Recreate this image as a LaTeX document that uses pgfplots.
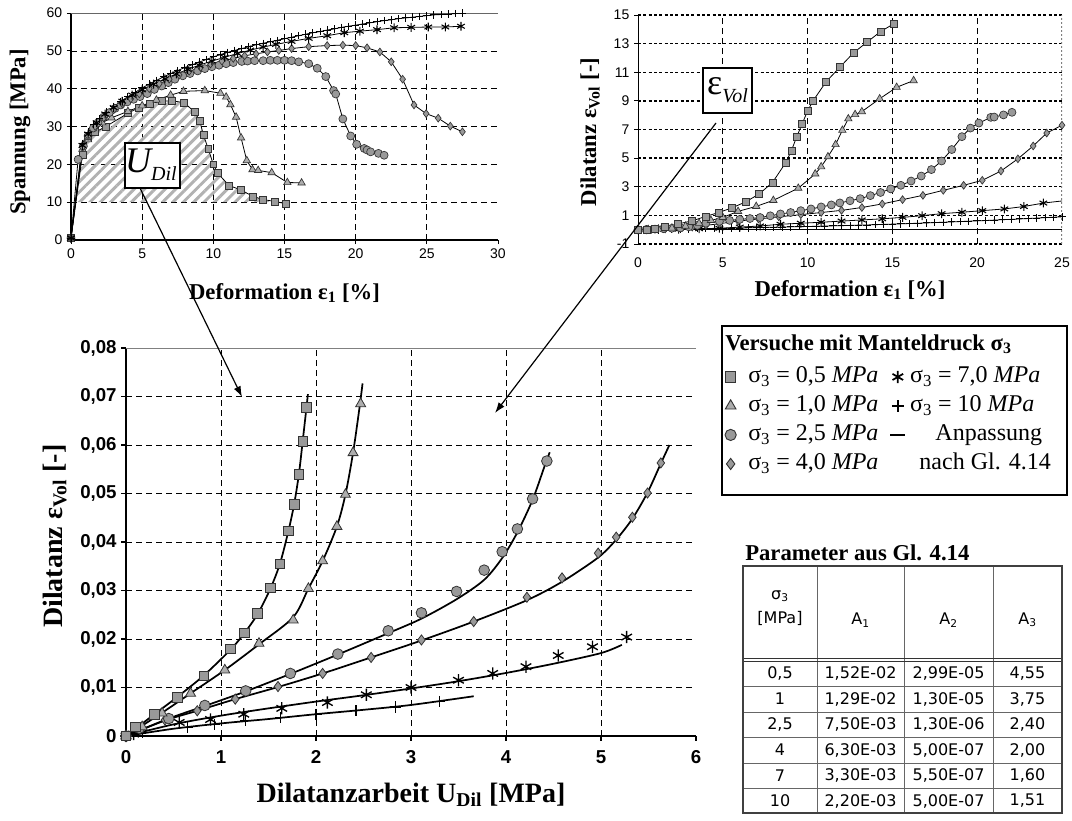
\documentclass[border=0pt]{standalone}
\usepackage{fontspec}
\setmainfont{Liberation Serif}
\setsansfont{Liberation Sans}
\newfontfamily\tabfont{DejaVu Sans}
\usepackage{pgfplots}
\pgfplotsset{compat=1.18}
\usetikzlibrary{patterns.meta,arrows.meta}
\definecolor{mk}{HTML}{999999}
\definecolor{mkd}{HTML}{333333}
\pgfplotsset{
  tsq/.style={black, line width=0.6pt, mark=square*, mark size=2.6pt, mark options={solid, fill=mk, draw=mkd, line width=0.5pt}},
  ttr/.style={black, line width=0.6pt, mark=triangle*, mark size=3.2pt, mark options={solid, fill=mk!80!white, draw=mkd, line width=0.5pt}},
  tci/.style={black, line width=0.6pt, mark=*, mark size=3pt, mark options={solid, fill=mk, draw=mkd, line width=0.5pt}},
  tdi/.style={black, line width=0.6pt, mark=diamond*, mark size=2.9pt, mark options={solid, fill=mk, draw=mkd, line width=0.5pt}},
  tst/.style={black, line width=0.6pt, mark=asterisk, mark size=3.3pt, mark options={solid, draw=black, line width=0.8pt}},
  tpl/.style={black, line width=0.6pt, mark=+, mark size=2.8pt, mark options={solid, draw=black, line width=0.7pt}},
  bsq/.style={only marks, mark=square*, mark size=3.6pt, mark options={fill=mk, draw=mkd, line width=0.6pt}},
  btr/.style={only marks, mark=triangle*, mark size=4.3pt, mark options={fill=mk!80!white, draw=mkd, line width=0.6pt}},
  bci/.style={only marks, mark=*, mark size=4pt, mark options={fill=mk, draw=mkd, line width=0.6pt}},
  bdi/.style={only marks, mark=diamond*, mark size=3.8pt, mark options={fill=mk, draw=mkd, line width=0.6pt}},
  bst/.style={only marks, mark=asterisk, mark size=4.6pt, mark options={draw=black, line width=1pt}},
  bpl/.style={only marks, mark=+, mark size=4.2pt, mark options={draw=black, line width=0.9pt}},
  fit/.style={black, line width=1.3pt, smooth, no marks},
}
\begin{document}
\begin{tikzpicture}
\useasboundingbox (0,0) rectangle (804pt,-615.75pt);

% ---------------- top left: Spannung ----------------
\begin{axis}[at={(53.25pt,-180pt)}, anchor=south west, scale only axis,
  width=320.25pt, height=170.25pt,
  xmin=0, xmax=30, ymin=0, ymax=60,
  xtick={0,5,...,30}, ytick={0,10,...,60},
  minor xtick={5,10,...,25}, minor ytick={10,20,...,50},
  xminorgrids, yminorgrids, minor tick length=0pt,
  minor grid style={black, line width=0.5pt, dash pattern=on 4.5pt off 3pt},
  axis x line*=bottom, axis y line*=left,
  axis line style={black, line width=0.8pt},
  tick align=outside, major tick length=3pt, tick style={black, line width=0.6pt},
  tick label style={font=\sffamily\fontsize{10.5}{12}\selectfont},
  /pgf/number format/assume math mode=true,
  xlabel={Deformation ε\textsubscript{1} [\%]}, ylabel={Spannung [MPa]},
  label style={font=\bfseries\fontsize{17}{19}\selectfont},
  xlabel style={at={(axis description cs:0.5,-0.2335)}, anchor=center},
  ylabel style={at={(axis description cs:-0.1194,0.476)}, anchor=center},
]
\draw[black!60, line width=0.6pt] (rel axis cs:0,1) -- (rel axis cs:1,1) -- (rel axis cs:1,0);
% hatched area U_Dil (under the square curve, above 10 MPa)
\addplot[draw=none, pattern={Lines[angle=45,distance=5.5pt,line width=2.2pt]}, pattern color=black!30, forget plot]
 coordinates {(0.35,10)(0.8,22.5)(1.2,27)(1.7,28.5)(2.45,30)(4.0,33.5)(4.77,35)(5.54,36)(6.36,36.7)(7.1,36.8)(7.95,36.3)(8.7,33.8)(9.05,31.4)(9.3,27.8)(9.65,24)(10.0,20)(10.3,17.7)(11.1,14.4)(11.9,13.3)(12.8,11.5)(13.5,10.7)(14.3,10)} -- cycle;
\addplot[tsq] coordinates {(0,0.5)(0.8,22.5)(1.2,27)(1.7,28.5)(2.45,30)(4.0,33.5)(4.77,35)(5.54,36)(6.36,36.7)(7.1,36.8)(7.95,36.3)(8.7,33.8)(9.05,31.4)(9.3,27.8)(9.65,24)(10.0,20)(10.3,17.7)(11.1,14.4)(11.9,13.3)(12.8,11.5)(13.5,10.7)(14.3,10.2)(15.1,9.6)};
\addplot[ttr] coordinates {(0,0.5)(0.8,24)(1.2,26.5)(2.2,31)(2.85,32.3)(4.0,34)(5.0,35.5)(6.0,37)(7.0,38.3)(7.9,39.3)(9.4,39.5)(10.5,38.8)(10.9,37.8)(11.2,35.8)(11.6,32.5)(11.95,27)(12.35,21)(12.75,18.6)(13.15,18.4)(14.1,17.8)(15.2,15.2)(16.2,15.1)};
\addplot[tci] coordinates {(0,0.5)(0.5,21.3)(0.87,24.8)(1.2,27.5)(1.57,29.6)(1.9,31)(2.3,32.5)(2.7,33.7)(3.1,34.8)(3.5,35.7)(3.95,36.5)(4.4,37.2)(4.85,37.9)(5.36,38.7)(5.86,39.8)(6.37,40.7)(6.84,41.6)(7.3,42.5)(7.85,43.4)(8.36,44)(8.9,44.7)(9.4,45.3)(9.9,45.8)(10.4,46.2)(10.9,46.6)(11.4,46.9)(12,47.2)(12.4,47.3)(12.9,47.4)(13.5,47.4)(14,47.5)(14.5,47.5)(15,47.5)(15.5,47.4)(16,47.1)(16.7,46.6)(17.3,45.4)(17.9,43.2)(18.45,39.5)(18.6,38.6)(19.1,32)(19.65,27.5)(20.07,25.3)(20.6,24.2)(20.8,23.8)(21.05,23.3)(21.6,22.9)(22.0,22.4)};
\addplot[tdi] coordinates {(0,0.5)(0.8,24.5)(1.2,27.5)(1.7,30)(2.3,32.3)(3,34.4)(3.6,36)(4.2,37.3)(4.8,38.6)(5.5,40)(6.2,41.3)(6.9,42.5)(7.6,43.6)(8.3,44.6)(9.1,45.6)(9.8,46.5)(10.6,47.3)(11.4,48)(12.2,48.7)(13,49.2)(13.8,49.7)(14.6,50.1)(15.5,50.6)(16.7,51.1)(18,51.4)(19.1,51.5)(20,51.4)(20.8,50.8)(21.7,49.7)(22.5,47.1)(23.3,42.5)(24.1,35.7)(24.95,33.4)(25.8,32.2)(26.65,30.1)(27.5,28.6)};
\addplot[tst] coordinates {(0,0.5)(0.8,25)(1.2,28)(1.8,31)(2.4,33.3)(3,35)(3.6,36.7)(4.3,38.3)(5,39.7)(5.8,41.2)(6.6,42.6)(7.4,43.9)(8.2,45.1)(9,46.2)(9.9,47.3)(10.8,48.3)(11.7,49.3)(12.6,50.2)(13.5,51)(14.4,51.7)(15.5,52.5)(16.7,53.3)(18,54)(19.2,54.8)(20.3,55.2)(21.5,55.6)(22.7,56.1)(23.9,56.2)(25.1,56.3)(26.3,56.3)(27.4,56.5)};
\addplot[tpl] coordinates {(0,0.5)(0.8,25.5)(1.2,28.5)(1.6,30.5)(2,32)(2.5,33.8)(3,35.3)(3.5,36.6)(4,37.9)(4.5,39)(5,40.2)(5.5,41.2)(6,42.2)(6.5,43.1)(7,44)(7.5,44.8)(8,45.6)(8.5,46.3)(9,47)(9.5,47.7)(10,48.4)(10.5,49)(11,49.6)(11.5,50.1)(12,50.6)(12.5,51.1)(13,51.6)(13.5,52)(14,52.4)(14.5,52.8)(15,53.2)(15.5,53.6)(16,54)(16.5,54.4)(17,54.8)(17.5,55.1)(18,55.5)(18.5,55.8)(19,56.2)(19.5,56.5)(20,56.8)(20.5,57.1)(21,57.4)(21.5,57.7)(22,58)(22.5,58.2)(23,58.5)(23.5,58.7)(24,58.9)(24.5,59.1)(25,59.3)(25.5,59.5)(26,59.6)(26.5,59.7)(27,59.85)(27.5,60)};
\end{axis}

% ---------------- top right: Dilatanz vs Deformation ----------------
\begin{axis}[at={(478.5pt,-183pt)}, anchor=south west, scale only axis,
  width=318pt, height=171.75pt,
  xmin=0, xmax=25, ymin=-1, ymax=15,
  xtick={0,5,...,25}, ytick={-1,1,...,15},
  minor xtick={5,10,15,20}, xminorgrids, ymajorgrids, minor tick length=0pt,
  major grid style={black, line width=1.1pt, dash pattern=on 2.2pt off 1.8pt},
  minor grid style={black, line width=0.5pt, dash pattern=on 4.5pt off 3pt},
  axis line style={draw=none},
  xtick pos=left, ytick pos=left,
  x tick style={draw=none}, y tick style={black, line width=0.6pt},
  tick align=outside, major tick length=3pt,
  tick label style={font=\sffamily\fontsize{10.5}{12}\selectfont},
  xticklabel style={yshift=-4pt},
  /pgf/number format/assume math mode=true,
  xlabel={Deformation ε\textsubscript{1} [\%]}, ylabel={Dilatanz ε\textsubscript{Vol} [-]},
  label style={font=\bfseries\fontsize{17}{19}\selectfont},
  xlabel style={at={(axis description cs:0.5,-0.2009)}, anchor=center},
  ylabel style={at={(axis description cs:-0.113,0.489)}, anchor=center},
]
\draw[black, line width=0.8pt] (rel axis cs:0,0) -- (rel axis cs:0,1);
\draw[black, line width=0.8pt] (axis cs:0,0) -- (axis cs:25,0);
\draw[black!50, line width=0.8pt, dash pattern=on 1.5pt off 1.5pt] (rel axis cs:1,0) -- (rel axis cs:1,1);
\addplot[tpl] coordinates {(0,0)(0.5,0.01)(1,0.02)(1.5,0.03)(2,0.04)(2.5,0.05)(3,0.06)(3.5,0.07)(4,0.08)(4.5,0.09)(5,0.1)(5.5,0.11)(6,0.12)(6.5,0.13)(7,0.14)(7.5,0.16)(8,0.17)(8.5,0.18)(9,0.2)(9.5,0.21)(10,0.22)(10.5,0.24)(11,0.25)(11.5,0.27)(12,0.28)(12.5,0.3)(13,0.32)(13.5,0.33)(14,0.35)(14.5,0.37)(15,0.39)(15.5,0.41)(16,0.43)(16.5,0.45)(17,0.47)(17.5,0.5)(18,0.52)(18.5,0.54)(19,0.57)(19.5,0.59)(20,0.62)(20.5,0.64)(21,0.67)(21.5,0.7)(22,0.72)(22.5,0.75)(23,0.78)(23.5,0.81)(24,0.84)(24.5,0.87)(25,0.9)(25.5,0.93)};
\addplot[tst] coordinates {(0,0)(0.5,0.0)(1.2,0.02)(2.4,0.04)(3.6,0.07)(4.8,0.1)(6,0.18)(7.2,0.26)(8.4,0.38)(9.6,0.45)(10.8,0.52)(12,0.6)(13.2,0.68)(14.4,0.76)(15.6,0.86)(16.75,0.98)(17.9,1.12)(19.1,1.22)(20.3,1.33)(21.6,1.45)(22.75,1.62)(23.9,1.86)(25.1,2.02)(26.3,2.2)(27.4,2.4)};
\addplot[tdi] coordinates {(0,0)(0.8,0.02)(1.6,0.05)(2.4,0.1)(3.2,0.18)(4,0.3)(4.8,0.42)(5.9,0.6)(7.1,0.75)(8.3,0.9)(9.6,1.05)(10.8,1.2)(12,1.35)(13.2,1.55)(14.4,1.8)(15.6,2.1)(16.8,2.4)(18,2.75)(19.2,3.1)(20.3,3.45)(21.4,4.1)(22.4,4.95)(23.3,5.85)(24.1,6.75)(25.0,7.3)(25.8,8.1)};
\addplot[tci] coordinates {(0,0)(0.5,0.02)(1,0.04)(1.5,0.07)(2,0.1)(2.5,0.13)(3,0.2)(3.5,0.3)(4,0.45)(4.8,0.58)(5.4,0.65)(6,0.72)(6.6,0.78)(7.2,0.85)(7.8,0.97)(8.4,1.1)(9,1.2)(9.6,1.33)(10.2,1.45)(10.8,1.59)(11.4,1.73)(11.9,1.87)(12.5,2.02)(13.1,2.17)(13.7,2.38)(14.3,2.6)(14.9,2.85)(15.5,3.1)(16.1,3.4)(16.7,3.75)(17.3,4.2)(17.9,4.8)(18.5,5.6)(19.1,6.5)(19.6,7.1)(20.1,7.45)(20.8,7.85)(21,7.87)(21.55,8.02)(22.05,8.2)};
\addplot[ttr] coordinates {(0,0)(0.6,0.02)(1.2,0.05)(2,0.12)(2.8,0.25)(3.6,0.45)(4.3,0.65)(5,0.86)(5.9,1.28)(6.97,1.63)(7.98,2.05)(9.45,2.9)(10.45,3.9)(10.8,4.4)(11.2,5.1)(11.65,5.95)(12.05,6.95)(12.4,7.75)(12.8,8.05)(13.2,8.25)(14.25,9.15)(15.25,9.95)(16.25,10.42)};
\addplot[tsq] coordinates {(0,0)(0.5,0.02)(1,0.05)(1.6,0.17)(2.36,0.4)(3.2,0.62)(4,0.93)(4.76,1.2)(5.55,1.53)(6.36,1.95)(7.15,2.5)(7.93,3.3)(8.72,4.7)(9.05,5.53)(9.35,6.47)(9.68,7.4)(10,8.3)(10.33,9.02)(11.1,10.35)(11.9,11.35)(12.7,12.35)(13.5,13.1)(14.3,13.84)(15.1,14.4)};
\end{axis}

% ---------------- bottom: Dilatanz vs Dilatanzarbeit ----------------
\begin{axis}[at={(94.5pt,-552pt)}, anchor=south west, scale only axis,
  width=427.5pt, height=291pt,
  xmin=0, xmax=6, ymin=0, ymax=0.08,
  xtick={0,1,...,6}, ytick={0,0.01,0.02,0.03,0.04,0.05,0.06,0.07,0.08},
  yticklabels={0,{0,01},{0,02},{0,03},{0,04},{0,05},{0,06},{0,07},{0,08}},
  scaled y ticks=false,
  minor xtick={1,2,3,4,5}, minor ytick={0.01,0.02,0.03,0.04,0.05,0.06,0.07},
  xminorgrids, yminorgrids, minor tick length=0pt,
  minor grid style={black, line width=0.5pt, dash pattern=on 4.5pt off 3pt},
  axis x line*=bottom, axis y line*=left,
  axis line style={black, line width=1pt},
  tick align=outside, major tick length=3.5pt, tick style={black, line width=0.8pt},
  tick label style={font=\sffamily\bfseries\fontsize{14}{16}\selectfont},
  xticklabel style={yshift=-4pt},
  /pgf/number format/assume math mode=true,
  xlabel={Dilatanzarbeit U\textsubscript{Dil} [MPa]}, ylabel={Dilatanz ε\textsubscript{Vol} [-]},
  label style={font=\bfseries\fontsize{21}{23}\selectfont},
  xlabel style={at={(axis description cs:0.5,-0.152)}, anchor=center},
  ylabel style={at={(axis description cs:-0.125,0.515)}, anchor=center},
  legend columns=2, legend cell align=left,
  legend style={at={(1.0505,0.9588)}, anchor=north west, draw=none, fill=none,
    font=\fontsize{18}{20}\selectfont, row sep=2.75pt, inner sep=0pt,
    nodes={inner sep=1pt, text height=13pt, text depth=4pt},
    /tikz/column 1/.style={column sep=8pt},
    /tikz/column 2/.style={column sep=5pt},
    /tikz/column 3/.style={column sep=2pt}},
]
\draw[black!50, line width=0.8pt] (rel axis cs:0,1) -- (rel axis cs:1,1);
\addlegendimage{only marks, mark=square*, mark size=3.8pt, mark options={fill=mk, draw=mkd, line width=0.7pt}}
\addlegendentry{σ\textsubscript{3} = 0,5 \textit{MPa}}
\addlegendimage{only marks, mark=asterisk, mark size=4.6pt, mark options={draw=black, line width=1.3pt}}
\addlegendentry{σ\textsubscript{3} = 7,0 \textit{MPa}}
\addlegendimage{only marks, mark=triangle*, mark size=4.6pt, mark options={fill=mk!80!white, draw=mkd, line width=0.7pt}}
\addlegendentry{σ\textsubscript{3} = 1,0 \textit{MPa}}
\addlegendimage{only marks, mark=+, mark size=4.4pt, mark options={draw=black, line width=1.3pt}}
\addlegendentry{σ\textsubscript{3} = 10 \textit{MPa}}
\addlegendimage{only marks, mark=*, mark size=4.2pt, mark options={fill=mk, draw=mkd, line width=0.7pt}}
\addlegendentry{σ\textsubscript{3} = 2,5 \textit{MPa}}
\addlegendimage{legend image code/.code={\draw[black, line width=1.1pt] (0.1cm,0cm) -- (0.5cm,0cm);}}
\addlegendentry{\hspace{19pt}Anpassung}
\addlegendimage{only marks, mark=diamond*, mark size=4.2pt, mark options={fill=mk, draw=mkd, line width=0.7pt}}
\addlegendentry{σ\textsubscript{3} = 4,0 \textit{MPa}}
\addlegendimage{legend image code/.code={}}
\addlegendentry{\hspace{7pt}nach Gl. 4.14}
% fitted curves
\addplot[fit, forget plot] coordinates {(0,0)(0.3,0.0045)(0.55,0.0082)(0.82,0.0125)(1.1,0.0178)(1.25,0.0213)(1.39,0.0253)(1.52,0.0304)(1.62,0.0355)(1.71,0.0423)(1.77,0.0478)(1.82,0.054)(1.86,0.0608)(1.9,0.0678)(1.915,0.0705)};
\addplot[fit, forget plot] coordinates {(0,0)(0.38,0.0048)(0.68,0.0088)(1.04,0.0136)(1.4,0.0189)(1.76,0.0245)(1.92,0.0304)(2.07,0.0361)(2.22,0.0432)(2.31,0.0498)(2.39,0.0584)(2.46,0.068)(2.49,0.0727)};
\addplot[fit, forget plot] coordinates {(0,0)(0.45,0.0036)(0.83,0.0062)(1.26,0.0092)(1.73,0.0128)(2.23,0.0168)(2.76,0.0212)(3.11,0.0242)(3.48,0.0282)(3.77,0.0322)(3.96,0.0367)(4.12,0.042)(4.28,0.0487)(4.4,0.0553)(4.46,0.0585)};
\addplot[fit, forget plot] coordinates {(0,0)(0.41,0.0032)(0.75,0.0052)(1.15,0.0076)(1.6,0.0101)(2.07,0.0129)(2.58,0.0162)(3.11,0.0197)(3.66,0.0236)(4.22,0.028)(4.59,0.0318)(4.97,0.0368)(5.16,0.0405)(5.33,0.0448)(5.49,0.0502)(5.63,0.0562)(5.72,0.06)};
\addplot[fit, forget plot] coordinates {(0,0)(0.5,0.0024)(1,0.0042)(1.5,0.0057)(2,0.0071)(2.5,0.0084)(3,0.0098)(3.5,0.0113)(4,0.013)(4.5,0.0149)(5,0.0171)(5.22,0.0188)};
\addplot[fit, forget plot] coordinates {(0,0)(0.5,0.0015)(1,0.0026)(1.5,0.0035)(2,0.0045)(2.5,0.0054)(3,0.0064)(3.66,0.0082)};
% measured points
\addplot[bpl, forget plot] coordinates {(0,0)(0.17,0.0007)(0.65,0.0017)(0.93,0.0024)(1.26,0.0032)(1.63,0.0038)(2.0,0.0045)(2.42,0.0052)(2.84,0.006)(3.3,0.0071)};
\addplot[bst, forget plot] coordinates {(0,0)(0.08,0.0004)(0.56,0.0028)(0.89,0.0034)(1.24,0.0045)(1.64,0.0057)(2.12,0.0069)(2.53,0.0085)(3.0,0.01)(3.5,0.0115)(3.86,0.0129)(4.21,0.0143)(4.55,0.0166)(4.91,0.0184)(5.27,0.0204)};
\addplot[bdi, forget plot] coordinates {(0,0)(0.14,0.0016)(0.41,0.0033)(0.75,0.0052)(1.15,0.0076)(1.6,0.0102)(2.07,0.0129)(2.58,0.0162)(3.11,0.0198)(3.66,0.0236)(4.22,0.0286)(4.59,0.0326)(4.97,0.0377)(5.16,0.041)(5.33,0.0451)(5.49,0.0501)(5.63,0.0563)};
\addplot[bci, forget plot] coordinates {(0,0)(0.14,0.0016)(0.45,0.0036)(0.83,0.0063)(1.26,0.0093)(1.73,0.0129)(2.23,0.0169)(2.76,0.0217)(3.11,0.0254)(3.48,0.0298)(3.77,0.0342)(3.96,0.038)(4.12,0.0427)(4.28,0.0489)(4.43,0.0567)};
\addplot[btr, forget plot] coordinates {(0,0)(0.17,0.0019)(0.38,0.0047)(0.68,0.0088)(1.04,0.0136)(1.4,0.0191)(1.76,0.0239)(1.92,0.0304)(2.07,0.0361)(2.22,0.0432)(2.31,0.0498)(2.39,0.0584)(2.47,0.0685)};
\addplot[bsq, forget plot] coordinates {(0,0)(0.1,0.0019)(0.3,0.0045)(0.54,0.008)(0.82,0.0124)(1.1,0.018)(1.245,0.0213)(1.385,0.0253)(1.52,0.0305)(1.62,0.0355)(1.71,0.0423)(1.77,0.0478)(1.82,0.054)(1.86,0.0608)(1.9,0.0678)};
\end{axis}

% ---------------- annotations ----------------
\begin{scope}[x=0.75pt, y=-0.75pt]
  % arrows
  \draw[black, line width=0.9pt, -{Latex[length=8pt,width=5.5pt]}] (140,188) -- (242,397);
  \draw[black, line width=0.9pt, -{Latex[length=8pt,width=5.5pt]}] (716,123) -- (495,413);
  % boxes
  \draw[black, line width=0.8pt, fill=white] (125,143) rectangle (180,188);
  \node[font=\fontsize{27}{29}\selectfont\itshape, inner sep=0pt] at (151,165) {U\raisebox{-6pt}{\fontsize{15}{15}\selectfont Dil}};
  \draw[black, line width=0.8pt, fill=white] (703,68) rectangle (752,113);
  \node[font=\fontsize{27}{29}\selectfont, inner sep=0pt] at (727.5,90) {ε\raisebox{-6pt}{\fontsize{15}{15}\selectfont\itshape Vol}};
  % legend frame and title
  \draw[black, line width=1.1pt] (722,326) rectangle (1067,495);
  \node[anchor=west, font=\bfseries\fontsize{17}{19}\selectfont, inner sep=0pt] at (725,344) {Versuche mit Manteldruck σ\textsubscript{3}};
  % table
  \node[anchor=west, font=\bfseries\fontsize{17}{19}\selectfont, inner sep=0pt] at (745,553) {Parameter aus Gl. 4.14};
  \draw[black!60, line width=0.7pt] (817,566) -- (817,813) (904,566) -- (904,813) (993,566) -- (993,813);
  \foreach \yy in {686.5,712,737.5,763,788.5} {\draw[black!60, line width=0.7pt] (743,\yy) -- (1062,\yy);}
  \draw[black!80, line width=0.7pt] (743,658.5) -- (1062,658.5) (743,661.5) -- (1062,661.5);
  \draw[black!75, line width=1.1pt] (743,566) rectangle (1062,813);
  \begin{scope}[every node/.style={font=\tabfont\fontsize{12}{14}\selectfont, inner sep=0pt}]
    \node at (780,596) {σ\textsubscript{3}};
    \node at (780,618) {[MPa]};
    \node at (860.5,620) {A\textsubscript{1}};
    \node at (948.5,620) {A\textsubscript{2}};
    \node at (1027.5,620) {A\textsubscript{3}};
    \node at (780,673.5) {0,5};   \node at (860.5,673.5) {1,52E-02}; \node at (948.5,673.5) {2,99E-05}; \node at (1027.5,673.5) {4,55};
    \node at (780,699) {1};       \node at (860.5,699) {1,29E-02};   \node at (948.5,699) {1,30E-05};   \node at (1027.5,699) {3,75};
    \node at (780,724.5) {2,5};   \node at (860.5,724.5) {7,50E-03}; \node at (948.5,724.5) {1,30E-06}; \node at (1027.5,724.5) {2,40};
    \node at (780,750) {4};       \node at (860.5,750) {6,30E-03};   \node at (948.5,750) {5,00E-07};   \node at (1027.5,750) {2,00};
    \node at (780,775.5) {7};     \node at (860.5,775.5) {3,30E-03}; \node at (948.5,775.5) {5,50E-07}; \node at (1027.5,775.5) {1,60};
    \node at (780,801) {10};      \node at (860.5,801) {2,20E-03};   \node at (948.5,801) {5,00E-07};   \node at (1027.5,801) {1,51};
  \end{scope}
\end{scope}
\end{tikzpicture}
\end{document}
